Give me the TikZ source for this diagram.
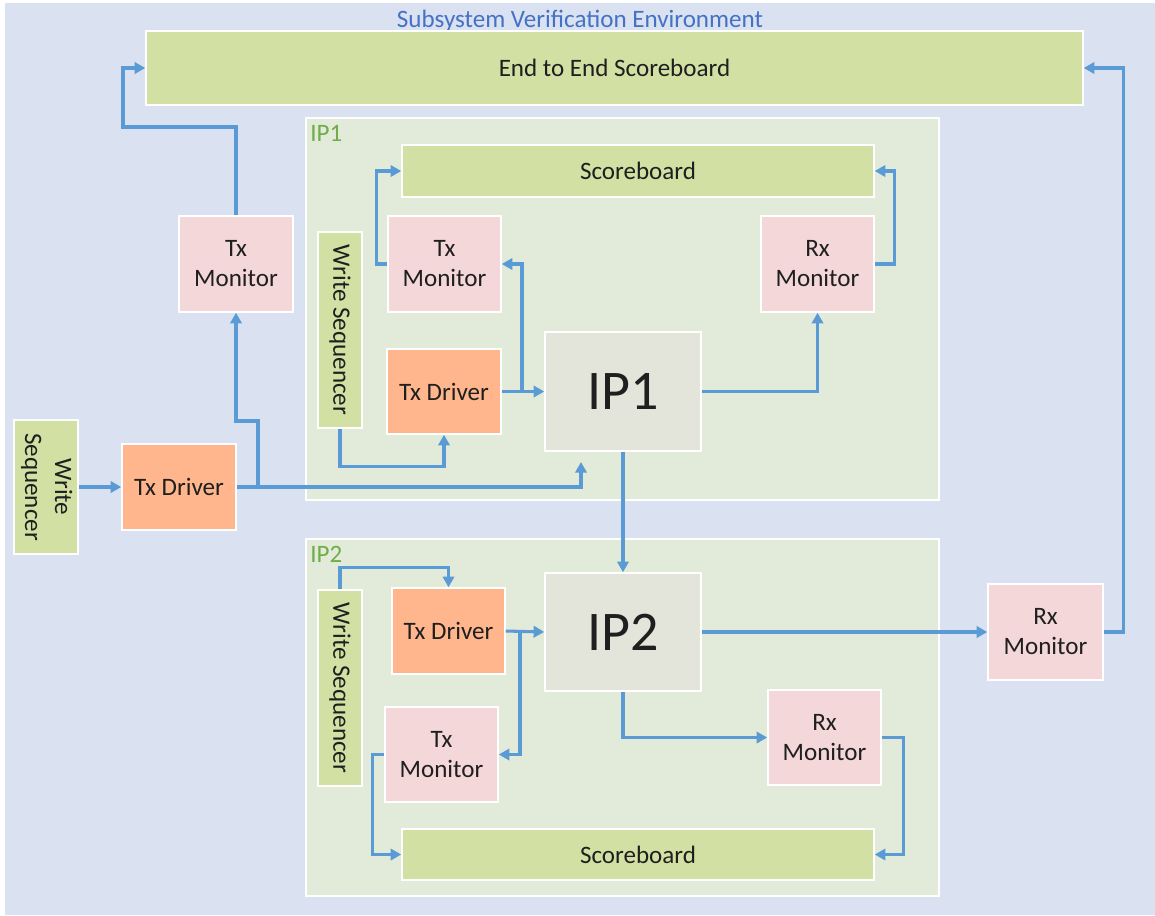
\documentclass[tikz,border=0pt]{standalone}
\usepackage{fontspec}
\usepackage{graphicx}
\setmainfont{Carlito}
\usetikzlibrary{arrows.meta}

\definecolor{envbg}{RGB}{218,225,240}
\definecolor{ipbg}{RGB}{226,235,218}
\definecolor{sbgreen}{RGB}{211,224,163}
\definecolor{monpink}{RGB}{244,215,216}
\definecolor{drvorange}{RGB}{255,182,140}
\definecolor{dutgray}{RGB}{227,229,219}
\definecolor{linkblue}{RGB}{91,155,213}
\definecolor{titleblue}{RGB}{68,114,196}
\definecolor{labelgreen}{RGB}{112,173,71}

% block from pixel corners: name, x1, y1, x2, y2, style, text
\newcommand\blk[7]{%
  \node[#6, minimum width={(#4-#2)*0.75pt}, minimum height={(#5-#3)*0.75pt}]
    (#1) at ({(#2+#4)/2},{(#3+#5)/2}) {#7};}

\begin{document}
\begin{tikzpicture}[x=0.75pt, y=-0.75pt,
  base/.style={draw=white, line width=1.1pt, inner sep=0pt, align=center,
    font=\fontsize{18.8}{22.5}\selectfont, text=black!88},
  sbbox/.style={base, fill=sbgreen},
  monbox/.style={base, fill=monpink},
  drvbox/.style={base, fill=drvorange},
  dutbox/.style={base, fill=dutgray, font=\fontsize{42}{46}\selectfont},
  ipbox/.style={base, fill=ipbg},
  arr/.style={draw=linkblue, line width=2.3pt, -{Triangle[length=8pt,width=8.5pt]}},
  lbl/.style={inner sep=0pt, font=\fontsize{18.8}{22.5}\selectfont}
]
\useasboundingbox (0,0) rectangle (1155,915);
\fill[white] (0,0) rectangle (1155,915);
\fill[envbg] (5,3) rectangle (1155,915);

\node[lbl, text=titleblue] (title) at (580,21) {Subsystem Verification Environment};

% top-level scoreboard
\blk{e2e}{146}{31}{1083}{105}{sbbox}{End to End Scoreboard}

% IP containers
\blk{ipa}{306}{118}{939}{500}{ipbox}{}
\blk{ipb}{306}{539}{939}{896}{ipbox}{}
\node[lbl, text=labelgreen, anchor=north west] (ipalbl) at (310,125) {IP1};
\node[lbl, text=labelgreen, anchor=north west] (ipblbl) at (310,546) {IP2};

% system-level agents
\blk{otm}{179}{216}{293}{312}{monbox}{Tx\\Monitor}
\blk{ows}{14}{420}{78}{554}{sbbox}{\rotatebox{-90}{\begin{tabular}{@{}c@{}}Write\\Sequencer\end{tabular}}}
\blk{otd}{122}{444}{236}{530}{drvbox}{Tx Driver}
\blk{orm}{988}{584}{1103}{680}{monbox}{Rx\\Monitor}

% IP1 environment
\blk{isb1}{402}{145}{874}{197}{sbbox}{Scoreboard}
\blk{itm1}{388}{216}{501}{312}{monbox}{Tx\\Monitor}
\blk{irm1}{761}{216}{874}{312}{monbox}{Rx\\Monitor}
\blk{iws1}{318}{232}{362}{428}{sbbox}{\rotatebox{-90}{Write Sequencer}}
\blk{itd1}{387}{349}{501}{434}{drvbox}{Tx Driver}
\blk{ip1}{545}{332}{701}{451}{dutbox}{IP1}

% IP2 environment
\blk{iws2}{318}{590}{362}{786}{sbbox}{\rotatebox{-90}{Write Sequencer}}
\blk{itd2}{392}{588}{505}{674}{drvbox}{Tx Driver}
\blk{ip2}{545}{573}{701}{691}{dutbox}{IP2}
\blk{itm2}{385}{707}{498}{802}{monbox}{Tx\\Monitor}
\blk{irm2}{768}{690}{881}{785}{monbox}{Rx\\Monitor}
\blk{isb2}{402}{829}{874}{880}{sbbox}{Scoreboard}

% tap points and free ends
\coordinate (tap1) at (258,487);
\coordinate (ip1in) at (581,462);
\coordinate (tap2) at (522,391.5);
\coordinate (tap3) at (520,631);

% system-level connections
\draw[arr] (otm.north) |- (123,127) |- (e2e.west);
\draw[arr] (ows.east) -- (otd.west);
\draw[arr] (otd.east) -| (ip1in);
\draw[arr] (tap1) -- (258,421) -| (otm.south);
\draw[arr] (ip1.south) -- (ip2.north);
\draw[arr] (ip2.east) -- (orm.west);
\draw[arr] (orm.east) -- ++(20,0) |- (e2e.east);

% IP1 connections
\draw[arr] (itd1.east) -- (ip1.west);
\draw[arr] (tap2) |- (itm1.east);
\draw[arr] (itm1.west) -- ++(-11,0) |- (isb1.west);
\draw[arr] (irm1.east) -- ++(20,0) |- (isb1.east);
\draw[arr] (ip1.east) -| (irm1.south);
\draw[arr] (iws1.south) -- ++(0,38) -| (itd1.south);

% IP2 connections
\draw[arr] (iws2.north) -- ++(0,-22) -| (itd2.north);
\draw[arr] (itd2.east) -- (ip2.west);
\draw[arr] (tap3) |- (itm2.east);
\draw[arr] (itm2.west) -- ++(-12,0) |- (isb2.west);
\draw[arr] (ip2.south) |- (irm2.west);
\draw[arr] (irm2.east) -- ++(22,0) |- (isb2.east);
\end{tikzpicture}
\end{document}
